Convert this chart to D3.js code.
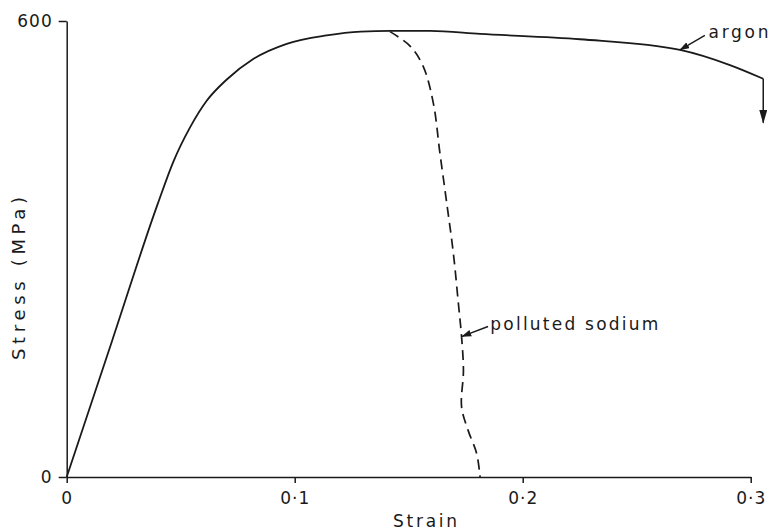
<!DOCTYPE html>
<html>
<head>
<meta charset="utf-8">
<script src="https://cdn.jsdelivr.net/npm/d3@7"></script>
<style>
  body { margin: 0; background: #fff; }
  text { font-family: "DejaVu Sans", sans-serif; fill: #1a1a1a; }
  .axis path, .axis line { stroke: #1a1a1a; stroke-width: 1.5; }
  .axis text { font-size: 17px; letter-spacing: 1px; }
</style>
</head>
<body>
<svg id="chart" width="770" height="531"></svg>
<script>
// strain / stress (MPa)
var argonStrain = [0, 0.02, 0.04, 0.0468, 0.0541, 0.0614, 0.0702, 0.0818, 0.0965, 0.114, 0.129, 0.142, 0.1594, 0.1813, 0.2251, 0.269, 0.2909, 0.3055];
var argonStress = [0, 180, 360, 415, 460, 495, 523, 550, 570, 581, 586, 587, 587, 583, 576, 562, 542, 524];
var sodiumStrain = [0.1418, 0.1506, 0.1564, 0.1608, 0.1637, 0.1667, 0.1696, 0.1718, 0.1732, 0.174, 0.1732, 0.1761, 0.1798, 0.1813];
var sodiumStress = [586, 567, 540, 492, 426, 360, 294, 228, 184, 140, 92, 61, 31, 0];
var xTicks = [0, 0.1, 0.2, 0.3];
var xTickLabels = ["0", "0·1", "0·2", "0·3"];
var yTicks = [0, 600];

var svg = d3.select('#chart');
var x = d3.scaleLinear().domain([0, 0.3]).range([66.7, 750.7]);
var y = d3.scaleLinear().domain([0, 600]).range([477, 21]);

// axes
svg.append('g')
    .attr('class', 'axis')
    .attr('transform', 'translate(0,477)')
    .call(d3.axisBottom(x).tickValues(xTicks).tickSize(6).tickSizeOuter(0).tickPadding(9)
        .tickFormat((d, i) => xTickLabels[i]));
svg.append('g')
    .attr('class', 'axis')
    .attr('transform', 'translate(66.7,0)')
    .call(d3.axisLeft(y).tickValues(yTicks).tickSize(8).tickSizeOuter(0).tickPadding(6));
svg.selectAll('.axis .domain').attr('fill', 'none');

var argon = argonStrain.map((d, i) => [d, argonStress[i]]);
var sodium = sodiumStrain.map((d, i) => [d, sodiumStress[i]]);

var lineArgon = d3.line()
    .x((d) => x(d[0]))
    .y((d) => y(d[1]))
    .curve(d3.curveMonotoneX);
var lineSodium = d3.line()
    .x((d) => x(d[0]))
    .y((d) => y(d[1]))
    .curve(d3.curveCatmullRom.alpha(0.5));

var defs = svg.append('defs');
defs.append('marker')
    .attr('id', 'head')
    .attr('viewBox', '0 0 12 8')
    .attr('refX', 11).attr('refY', 4)
    .attr('markerWidth', 10).attr('markerHeight', 7)
    .attr('markerUnits', 'userSpaceOnUse')
    .attr('orient', 'auto')
    .append('path')
    .attr('d', 'M0,0L12,4L0,8Z')
    .attr('fill', '#1a1a1a');
defs.append('marker')
    .attr('id', 'bighead')
    .attr('viewBox', '0 0 14 8')
    .attr('refX', 13).attr('refY', 4)
    .attr('markerWidth', 14).attr('markerHeight', 8)
    .attr('markerUnits', 'userSpaceOnUse')
    .attr('orient', 'auto')
    .append('path')
    .attr('d', 'M0,0L14,4L0,8Z')
    .attr('fill', '#1a1a1a');

svg.append('path')
    .datum(argon)
    .attr('d', lineArgon)
    .attr('fill', 'none')
    .attr('stroke', '#1a1a1a')
    .attr('stroke-width', 1.8);

svg.append('path')
    .datum(sodium)
    .attr('d', lineSodium)
    .attr('fill', 'none')
    .attr('stroke', '#1a1a1a')
    .attr('stroke-width', 1.7)
    .attr('stroke-dasharray', '10,6');

// fracture arrow at end of argon curve
var last = argon[argon.length - 1];
svg.append('line')
    .attr('x1', x(last[0])).attr('y1', y(last[1]))
    .attr('x2', x(last[0])).attr('y2', y(466))
    .attr('stroke', '#1a1a1a').attr('stroke-width', 1.5)
    .attr('marker-end', 'url(#bighead)');

// labels with pointers
var notes = [
    {text: 'argon', from: [0.2799, 581], to: [0.269, 562], at: [0.2815, 578], len: 60},
    {text: 'polluted sodium', from: [0.1848, 198], to: [0.1734, 185], at: [0.1858, 193], len: 168}
];
notes.forEach(function (n) {
    svg.append('line')
        .attr('x1', x(n.from[0])).attr('y1', y(n.from[1]))
        .attr('x2', x(n.to[0])).attr('y2', y(n.to[1]))
        .attr('stroke', '#1a1a1a').attr('stroke-width', 1.4)
        .attr('marker-end', 'url(#head)');
    svg.append('text')
        .attr('x', x(n.at[0])).attr('y', y(n.at[1]))
        .attr('font-size', 17)
        .attr('textLength', n.len)
        .attr('lengthAdjust', 'spacing')
        .text(n.text);
});

// axis titles
svg.append('text')
    .attr('x', 393).attr('y', 527)
    .attr('font-size', 17)
    .attr('textLength', 64)
    .attr('lengthAdjust', 'spacing')
    .text('Strain');
svg.append('text')
    .attr('transform', 'translate(25,360)rotate(-90)')
    .attr('font-size', 18)
    .attr('textLength', 163)
    .attr('lengthAdjust', 'spacing')
    .text('Stress (MPa)');
</script>
</body>
</html>
